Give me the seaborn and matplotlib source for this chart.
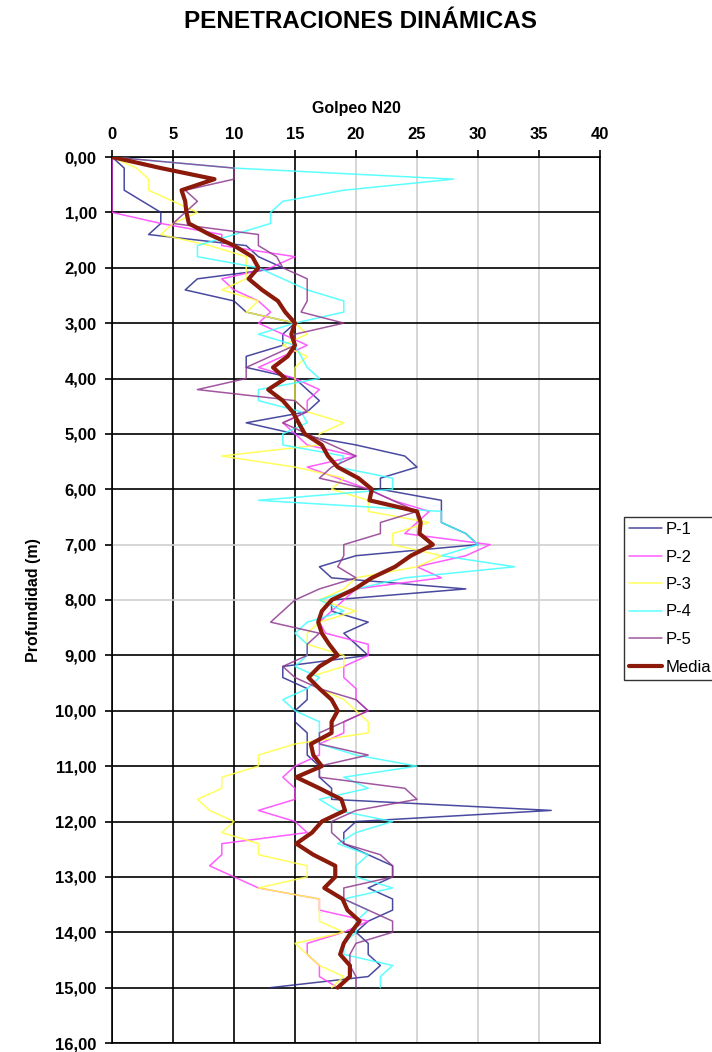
import numpy as np
import pandas as pd
import matplotlib
matplotlib.use("Agg")
import matplotlib.pyplot as plt
from matplotlib.ticker import FuncFormatter
import seaborn as sns

# depth of each reading (m), every 0.2 m down to 15 m
depth = np.round(np.arange(0, 15.01, 0.2), 1)

p1 = [0, 1, 1, 1, 2.5, 4, 4, 3, 11, 12,
      14, 7, 6, 10, 11, 15, 14, 14, 11, 11,
      15, 16, 17, 16, 11, 15, 20, 24, 25, 22,
      22, 27, 27, 27, 29, 30, 20, 17, 18, 29,
      18, 18, 21, 19, 20, 21, 14, 14, 16, 16,
      15, 15, 16, 16, 16, 17, 17, 18, 18, 36,
      20, 19, 19, 21, 23, 23, 21, 23, 23, 21,
      20, 21, 21, 22, 21,
      13]
p2 = [0, 0, 0, 0, 0, 0, 4, 9, 9, 15,
      13, 9, 10, 12, 13, 12, 14, 16, 14, 12,
      15, 17, 16, 16, 14, 15, 16, 20, 16, 18.5,
      21, 23, 26, 25, 24, 31, 29, 25, 27, 20,
      19, 18, 17, 17.5, 21, 21, 19, 19, 20, 20,
      21, 19, 19, 17, 17, 15, 14, 15, 15, 12,
      15, 16, 9, 9, 8, 10, 12, 17, 17, 21,
      19, 16, 16, 17, 17,
      18.5]
p3 = [0, 2, 3, 3, 5, 7, 5, 4, 8, 11,
      11, 11, 9, 12, 11, 15, 16, 14, 16, 15,
      15, 15, 15, 16, 19, 17, 17, 9, 15, 19,
      18, 21, 21, 26, 23, 23, 27, 25, 20, 19,
      17, 20, 17, 16, 16, 19, 19, 16, 17, 19,
      20, 21, 21, 15, 12, 12, 9, 9, 7, 8,
      10, 9, 12, 12, 16, 16, 12, 17, 17, 17,
      19, 15, 16, 17, 19,
      18]
p4 = [0, 10, 28, 19, 14, 13, 13, 10, 7, 7,
      12, 14, 16, 19, 19, 15, 12, 15, 15.5, 16,
      17, 12, 12, 15.5, 16, 14, 14, 19, 18.5, 23,
      23, 12, 27, 27, 29, 30, 27, 33, 24, 20,
      17, 19, 16, 15, 16, 16, 15, 17, 16, 14,
      15, 17, 17, 17, 20, 25, 19, 21, 17, 18.5,
      23, 20, 18.5, 21, 20, 20, 23, 19, 21, 20,
      20, 19, 19, 23, 22,
      22]
p5 = [0, 10, 10, 6, 7, 6, 5, 12, 12, 13.5,
      14, 16, 16, 16, 15.5, 19, 15, 15, 13, 11,
      11, 7, 15, 16, 14, 16, 18, 20, 18, 17,
      21, 23, 25, 22, 22, 19, 19, 18.5, 20, 17,
      15, 14, 13, 17, 16, 16, 14, 15, 17, 20,
      21, 19, 17, 17, 21, 17, 17, 24, 25, 20,
      18, 18, 19, 22, 23, 23, 19, 19, 21, 23,
      23, 20, 19.5, 19.5, 20,
      20]
media = [0, 4, 8.4, 5.7, 6, 6.1, 6.3, 8, 10, 11.5,
         12, 11.2, 12.3, 13.6, 14.2, 15, 14.7, 15, 14.4, 13.2,
         14.2, 12.8, 14, 14.8, 15.3, 15.8, 17.2, 17.7, 18.5, 20.2,
         21.3, 21.1, 25, 25.3, 25.2, 26.3, 24.5, 23.2, 21.3, 19.9,
         18, 17.2, 16.9, 17.2, 17.8, 18.5, 17, 16.1, 17, 18,
         18.5, 18, 18, 16.3, 16.5, 17.2, 15.1, 17, 18.8, 19.1,
         17.2, 16.4, 15.1, 16.5, 18.3, 18.3, 17.4, 18.9, 19.3, 20.3,
         19.6, 19, 18.7, 19.5, 19.5,
         18.5]

names = ["P-1", "P-2", "P-3", "P-4", "P-5", "Media"]
series = [p1, p2, p3, p4, p5, media]
colors = ["#2a2a8f", "#ff40ff", "#ffff40", "#40ffff", "#8f3a8f", "#8b1a0a"]

xticks = [0, 5, 10, 15, 20, 25, 30, 35, 40]
yticks = list(range(0, 17))


def main():
    sns.set_style("white")
    plt.rcParams['font.family'] = ["Liberation Sans", "DejaVu Sans"]
    plt.rcParams['text.color'] = "black"
    plt.rcParams['axes.labelcolor'] = "black"
    plt.rcParams['xtick.color'] = "black"
    plt.rcParams['ytick.color'] = "black"

    fig = plt.figure(figsize=(7.12, 10.52), dpi=100)
    ax = fig.add_axes([112 / 712, 1 - 1043 / 1052,
                       (600 - 112) / 712, (1043 - 157) / 1052])

    for name, vals, col in zip(names, series, colors):
        df = pd.DataFrame({"golpeo": vals, "prof": depth})
        lw = 3 if name == "Media" else 1.1
        alpha = 1.0 if name == "Media" else 0.85
        sns.lineplot(data=df, x="golpeo", y="prof", orient="y",
                     estimator=None, sort=False, ax=ax,
                     color=col, lw=lw, alpha=alpha, label=name,
                     zorder=5 if name == "Media" else 3)

    ax.set_xlim(0, 40)
    ax.set_ylim(16, 0)
    ax.set_xticks(xticks)
    ax.set_yticks(yticks)
    ax.xaxis.tick_top()
    ax.xaxis.set_label_position("top")
    ax.yaxis.set_major_formatter(
        FuncFormatter(lambda v, p: ("%.2f" % v).replace(".", ",")))

    ax.grid(True, color="black", lw=1.2)
    for i, gl in enumerate(ax.get_xgridlines()):
        if 20 <= xticks[i] < 40:
            gl.set_color("#d0d0d0")
    for i, gl in enumerate(ax.get_ygridlines()):
        if yticks[i] in (7, 8):
            gl.set_color("#d0d0d0")

    for sp in ax.spines.values():
        sp.set_color("black")
        sp.set_linewidth(1.2)

    ax.tick_params(axis="both", direction="out", length=5, width=1.2,
                   color="black", labelcolor="black", labelsize=12, pad=6)
    ax.tick_params(axis="x", top=True, bottom=False)
    ax.tick_params(axis="y", left=True)
    for lab in ax.get_xticklabels() + ax.get_yticklabels():
        lab.set_fontweight("bold")

    ax.set_xlabel("Golpeo N20", fontsize=11.5, fontweight="bold",
                  labelpad=10, color="black")
    ax.set_ylabel("Profundidad (m)", fontsize=11.5, fontweight="bold",
                  labelpad=10, color="black")

    fig.text(0.507, 1 - 22 / 1052, "PENETRACIONES DINÁMICAS",
             ha="center", va="center", fontsize=17.5, fontweight="bold",
             color="black")

    leg = ax.legend(loc="upper left", bbox_to_anchor=(624 / 712, 1 - 517 / 1052),
                    bbox_transform=fig.transFigure, frameon=True,
                    fancybox=False, edgecolor="black", fontsize=12,
                    handlelength=2.0, handletextpad=0.2, borderpad=0.3,
                    labelspacing=0.75, borderaxespad=0)
    leg.get_frame().set_linewidth(1.0)
    for t in leg.get_texts():
        t.set_color("black")

    fig.savefig("out.png", dpi=100)


if __name__ == "__main__":
    main()
